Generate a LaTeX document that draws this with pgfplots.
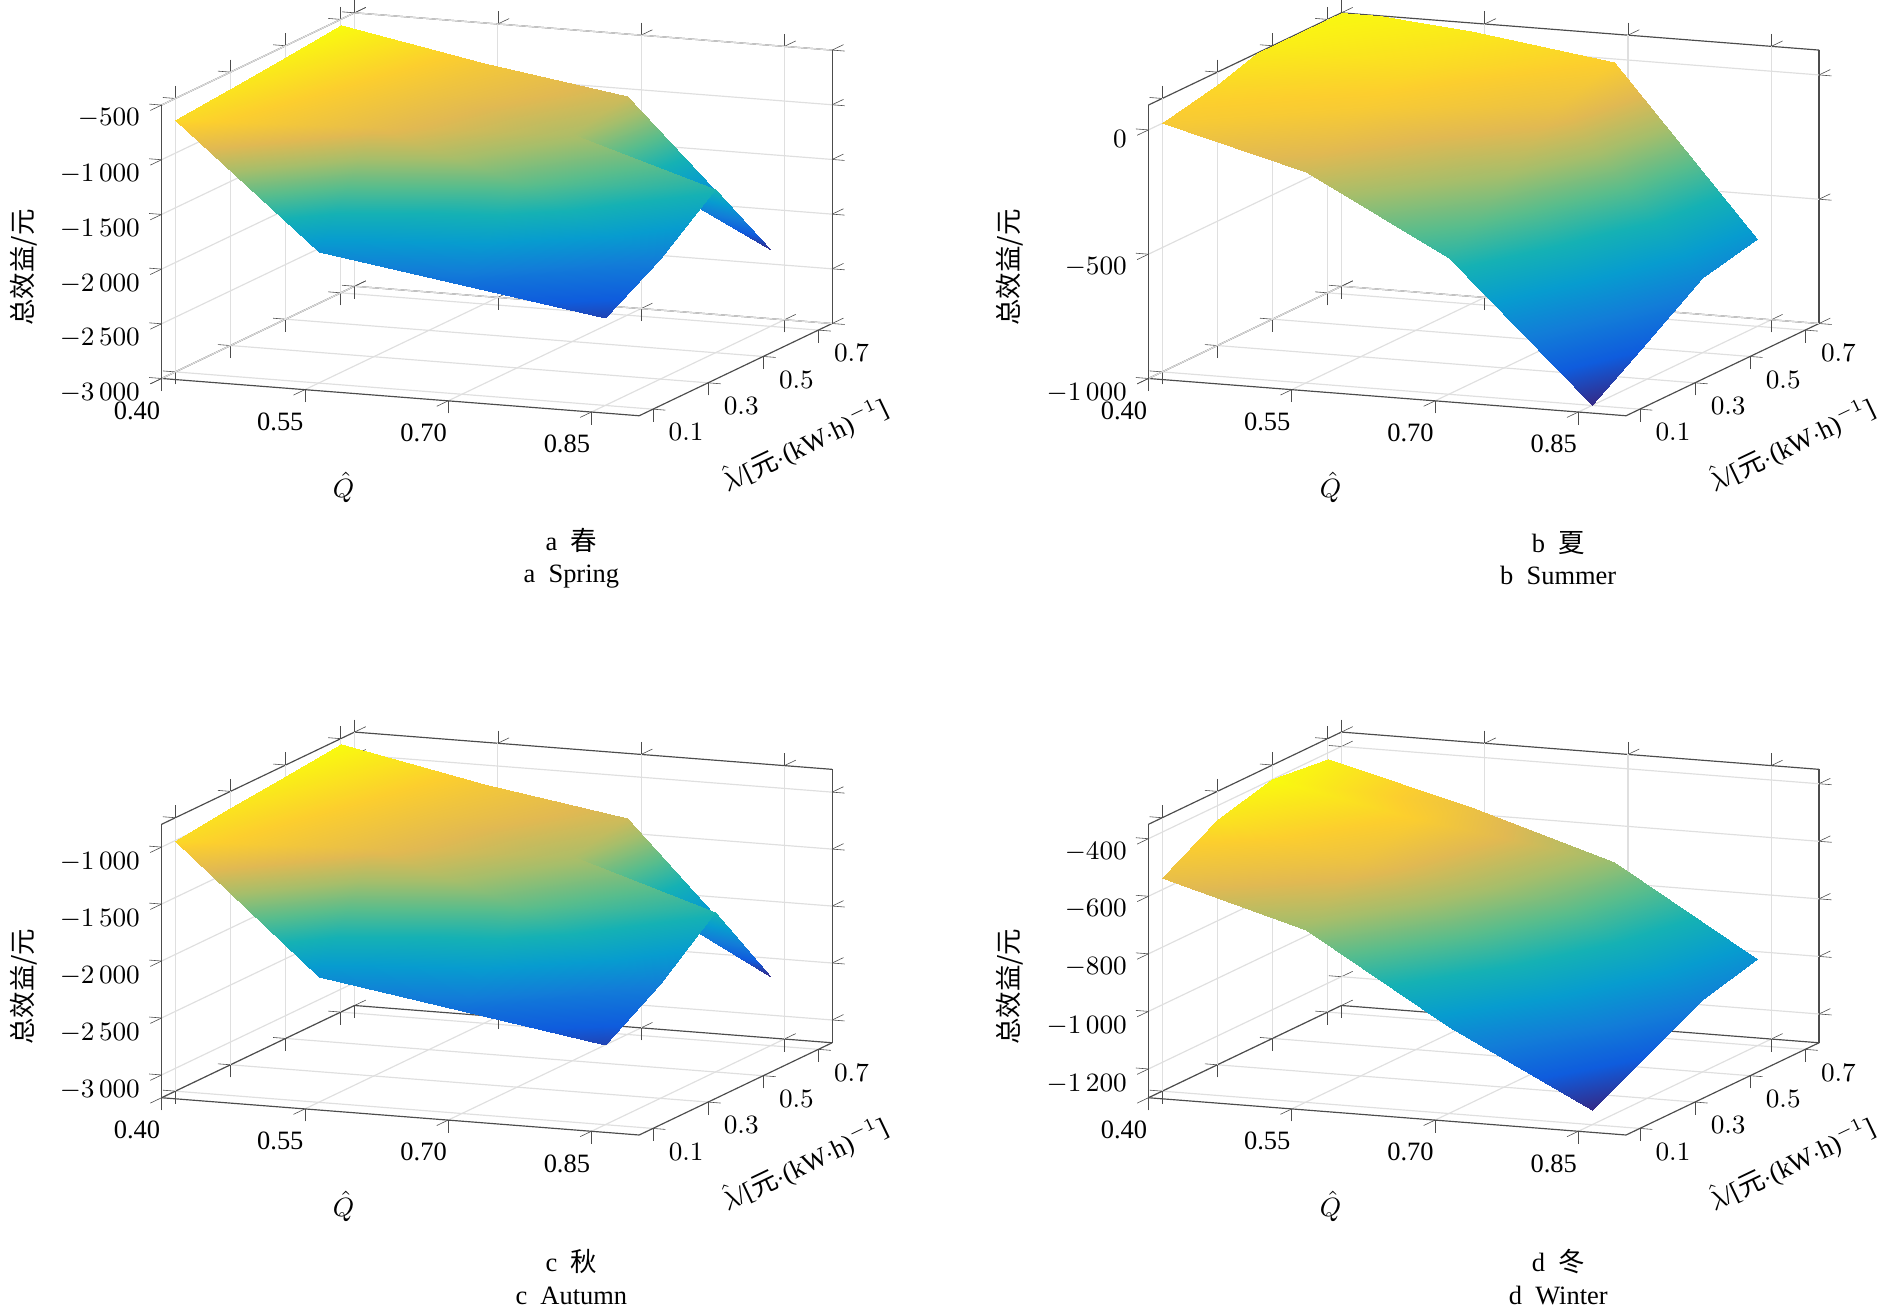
\documentclass[border=0pt]{standalone}
\usepackage{pgfplots}
\pgfplotsset{compat=1.18}
\usepackage{fontspec}
\setmainfont{Liberation Serif}
\newfontfamily\cjk{Noto Sans CJK SC}
\pgfplotsset{
 colormap={parula}{rgb255=(53,42,135) rgb255=(15,92,221) rgb255=(18,125,216) rgb255=(7,156,207) rgb255=(21,177,180) rgb255=(89,189,140) rgb255=(165,190,107) rgb255=(225,185,82) rgb255=(252,206,46) rgb255=(249,251,14)},
 my/.style={width=9.6cm,height=6.4cm,view={22}{20},grid=major,
  grid style={gray!25},
  colormap name=parula,
  xmin=0.4,xmax=0.9,ymin=0.05,ymax=0.75,
  xtick={0.4,0.55,0.7,0.85},xticklabels={0.40,0.55,0.70,0.85},
  ytick={0.1,0.3,0.5,0.7},
  xlabel={$\hat{Q}$},
  ylabel={$\hat{\lambda}$/[{\cjk 元}$\cdot$(kW$\cdot$h)$^{-1}$]},
  zlabel={{\cjk 总效益/元}},
  ticklabel style={font=\small},label style={font=\small},
  ylabel style={sloped},
  xticklabel style={yshift=-2pt},
  /pgf/number format/1000 sep={\,},
  axis line style={black!70},tick style={black!70},
  tick align=outside},
}
\begin{document}
\begin{tikzpicture}
\begin{axis}[my,at={(0,8.6cm)},zmin=-3000,zmax=-500,ztick={-3000,-2500,-2000,-1500,-1000,-500}]
\addplot3[surf,shader=interp,mesh/rows=4] coordinates {
(0.40,0.1,-700) (0.55,0.1,-1800) (0.70,0.1,-2000) (0.85,0.1,-2200)
(0.40,0.3,-650) (0.55,0.3,-900) (0.70,0.3,-1300) (0.85,0.3,-1900)
(0.40,0.5,-600) (0.55,0.5,-850) (0.70,0.5,-1100) (0.85,0.5,-1500)
(0.40,0.7,-550) (0.55,0.7,-800) (0.70,0.7,-1000) (0.85,0.7,-2300)
};
\end{axis}
\begin{axis}[my,at={(11.8cm,8.6cm)},zmin=-1000,zmax=100,ztick={-1000,-500,0}]
\addplot3[surf,shader=interp,mesh/rows=4] coordinates {
(0.40,0.1,0) (0.55,0.1,-150) (0.70,0.1,-450) (0.85,0.1,-1000)
(0.40,0.3,50) (0.55,0.3,0) (0.70,0.3,-250) (0.85,0.3,-850)
(0.40,0.5,120) (0.55,0.5,60) (0.70,0.5,-50) (0.85,0.5,-700)
(0.40,0.7,150) (0.55,0.7,100) (0.70,0.7,20) (0.85,0.7,-650)
};
\end{axis}
\begin{axis}[my,at={(0,0)},zmin=-3200,zmax=-800,ztick={-3000,-2500,-2000,-1500,-1000}]
\addplot3[surf,shader=interp,mesh/rows=4] coordinates {
(0.40,0.1,-1000) (0.55,0.1,-2100) (0.70,0.1,-2300) (0.85,0.1,-2500)
(0.40,0.3,-950) (0.55,0.3,-1200) (0.70,0.3,-1600) (0.85,0.3,-2200)
(0.40,0.5,-900) (0.55,0.5,-1150) (0.70,0.5,-1400) (0.85,0.5,-1800)
(0.40,0.7,-850) (0.55,0.7,-1100) (0.70,0.7,-1300) (0.85,0.7,-2600)
};
\end{axis}
\begin{axis}[my,at={(11.8cm,0)},zmin=-1300,zmax=-350,ztick={-1200,-1000,-800,-600,-400}]
\addplot3[surf,shader=interp,mesh/rows=4] coordinates {
(0.40,0.1,-560) (0.55,0.1,-700) (0.70,0.1,-1000) (0.85,0.1,-1250)
(0.40,0.3,-450) (0.55,0.3,-550) (0.70,0.3,-850) (0.85,0.3,-1150)
(0.40,0.5,-400) (0.55,0.5,-500) (0.70,0.5,-750) (0.85,0.5,-1050)
(0.40,0.7,-420) (0.55,0.7,-550) (0.70,0.7,-700) (0.85,0.7,-1000)
};
\end{axis}
\node[align=center,font=\small] at (4.9cm,6.9cm) {a\ \ {\cjk 春}\\a\ \ Spring};
\node[align=center,font=\small] at (16.7cm,6.9cm) {b\ \ {\cjk 夏}\\b\ \ Summer};
\node[align=center,font=\small] at (4.9cm,-1.7cm) {c\ \ {\cjk 秋}\\c\ \ Autumn};
\node[align=center,font=\small] at (16.7cm,-1.7cm) {d\ \ {\cjk 冬}\\d\ \ Winter};
\end{tikzpicture}
\end{document}
